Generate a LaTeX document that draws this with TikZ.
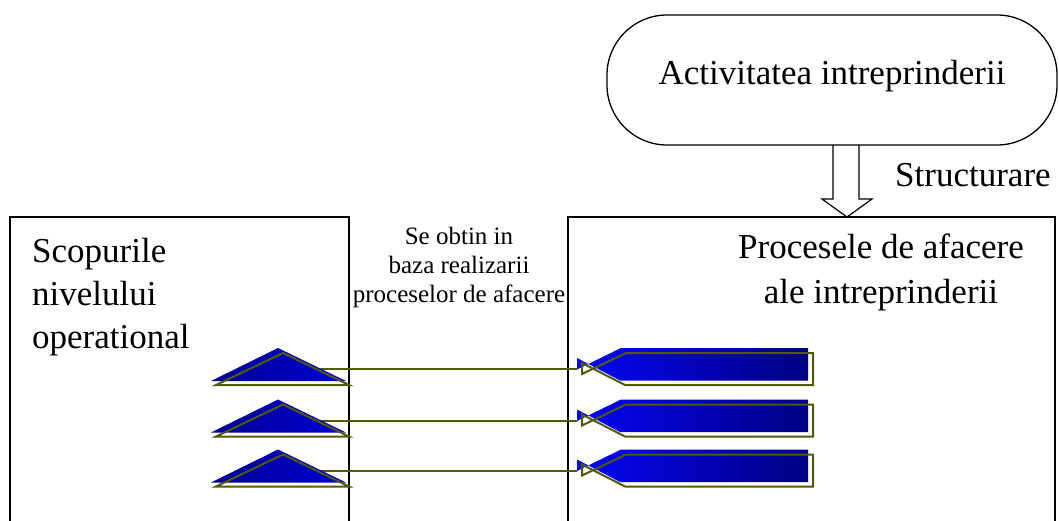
\documentclass[tikz,border=0pt]{standalone}
\usepackage{fontspec}
\setmainfont{Liberation Serif}
\definecolor{olivel}{RGB}{80,90,10}
\definecolor{triL}{RGB}{0,0,145}
\definecolor{triR}{RGB}{0,0,215}
\definecolor{barL}{RGB}{5,5,245}
\definecolor{barR}{RGB}{0,0,130}
\tikzset{
  frame/.style={draw=black, line width=1.6pt},
  bigtext/.style={font=\fontsize{35}{43}\selectfont, inner sep=0pt},
  smalltext/.style={font=\fontsize{25}{29}\selectfont, inner sep=0pt},
  conn/.style={draw=olivel, line width=2pt},
  shadowline/.style={draw=olivel, line width=2pt, line join=miter},
}
\begin{document}
\begin{tikzpicture}[x=1pt,y=-1pt]
\useasboundingbox (0,0) rectangle (1059,521);
% top terminator
\node[draw=black, line width=1.3pt, rounded corners=60pt, minimum width=450pt,
      minimum height=130pt, font=\fontsize{35}{43}\selectfont,
      text height=25pt, text depth=15pt] (act) at (832,80) {Activitatea intreprinderii};
% boxes (open at the bottom)
\coordinate (lbox) at (10,217);
\coordinate (rbox) at (568,217);
\draw[frame] (10,522) -- (lbox) -- (349,217) -- (349,522);
\draw[frame] (568,522) -- (rbox) -- (1055,217) -- (1055,522);
% hollow arrow
\coordinate (rtop) at (847,217);
\draw[line width=1.2pt, line join=miter] (833,145) -- (833,199) -- (822,199) -- (rtop) -- (872,199) -- (859,199) -- (859,145);
\node[bigtext, anchor=base west] (struct) at (895,187) {Structurare};
% texts (base anchor = last line)
\node[bigtext, anchor=base west, align=left] (scop) at (32,348) {Scopurile\\nivelului\\operational};
\node[smalltext, anchor=base, align=center] (obt) at (459,302) {Se obtin in\\baza realizarii\\proceselor de afacere};
\node[font=\fontsize{35}{45}\selectfont, inner sep=0pt, anchor=base, align=center] (proc) at (881,303) {Procesele de afacere\\ale intreprinderii};
% rows
\foreach \i/\dy in {1/0,2/51.5,3/101.5}{
  \coordinate (tri\i) at (316,{369+\dy});
  \coordinate (bar\i) at (577,{369+\dy});
  \draw[conn] (tri\i) -- (bar\i);
  \shade[left color=triL, right color=triR] (211,{381+\dy}) -- (278,{348+\dy}) -- (346,{381+\dy}) -- cycle;
  \draw[shadowline] (216,{385+\dy}) -- (283,{353+\dy}) -- (349,{385+\dy}) -- cycle;
  \shade[left color=barL, right color=barR] (621,{348+\dy}) -- (808,{348+\dy}) -- (808,{380.5+\dy}) -- (620,{380.5+\dy}) -- (577,{358+\dy}) -- (577,{369.5+\dy}) -- cycle;
  \draw[shadowline] (626,{353+\dy}) -- (813,{353+\dy}) -- (813,{385+\dy}) -- (625,{385+\dy}) -- (582,{363+\dy}) -- (582,{374+\dy}) -- cycle;
}
\end{tikzpicture}
\end{document}
